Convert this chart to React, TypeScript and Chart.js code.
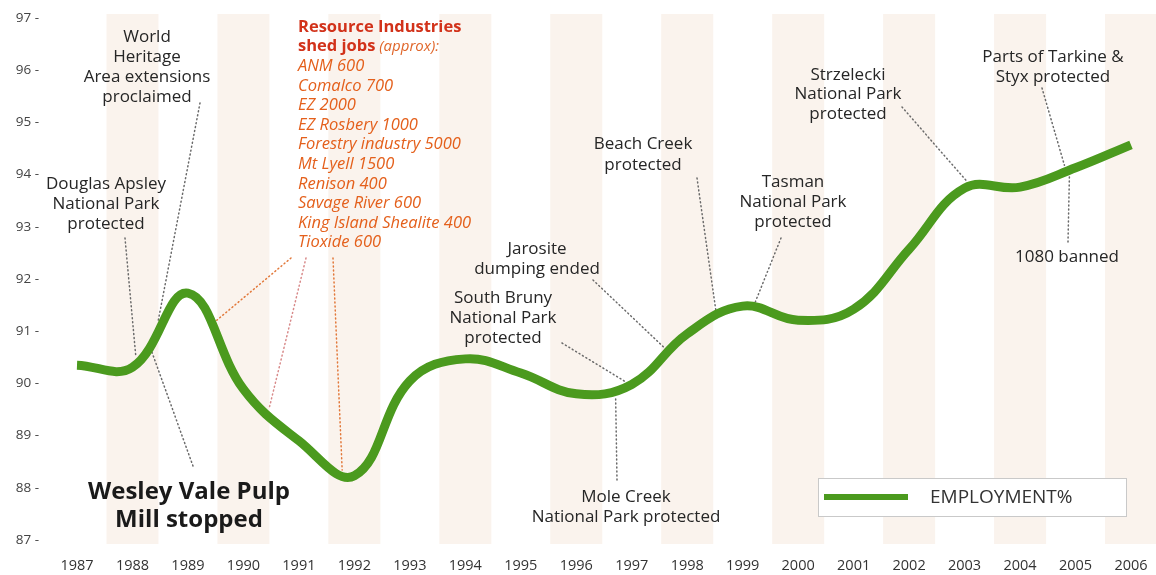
import React, { useEffect, useRef } from 'react';
import { Chart, registerables } from 'chart.js';

Chart.register(...registerables);

// ---------- DATA ----------
const years: string[] = [
  '1987', '1988', '1989', '1990', '1991', '1992', '1993', '1994', '1995', '1996',
  '1997', '1998', '1999', '2000', '2001', '2002', '2003', '2004', '2005', '2006',
];
const employment: number[] = [
  90.35, 90.31, 91.73, 89.89, 88.9, 88.23, 90.05, 90.47, 90.2, 89.8,
  89.98, 90.95, 91.48, 91.21, 91.42, 92.57, 93.74, 93.76, 94.13, 94.57,
];
const yMin = 87;
const yMax = 97;
const seriesLabel = 'EMPLOYMENT%';

// annotation texts
const resourceHeader: string[] = ['Resource Industries', 'shed jobs'];
const resourceApprox = ' (approx):';
const resourceItems: string[] = [
  'ANM 600', 'Comalco 700', 'EZ 2000', 'EZ Rosbery 1000', 'Forestry industry 5000',
  'Mt Lyell 1500', 'Renison 400', 'Savage River 600', 'King Island Shealite 400', 'Tioxide 600',
];

// ---------- STYLE / LAYOUT ----------
const FONT = '"Open Sans", "DejaVu Sans", sans-serif';
const GREEN = '#4b9a1e';
const TEXT = '#262626';

type Note = { lines: string[]; cx: number; cy: number; lh: number; size: number; bold?: boolean };
const notes: Note[] = [
  { lines: ['World', 'Heritage', 'Area extensions', 'proclaimed'], cx: 147, cy: 37, lh: 20, size: 17 },
  { lines: ['Douglas Apsley', 'National Park', 'protected'], cx: 106, cy: 184, lh: 20, size: 17 },
  { lines: ['Wesley Vale Pulp', 'Mill stopped'], cx: 189, cy: 492, lh: 28, size: 24, bold: true },
  { lines: ['Jarosite', 'dumping ended'], cx: 537, cy: 249, lh: 20, size: 17 },
  { lines: ['South Bruny', 'National Park', 'protected'], cx: 503, cy: 298, lh: 20, size: 17 },
  { lines: ['Beach Creek', 'protected'], cx: 643, cy: 144, lh: 21, size: 17 },
  { lines: ['Tasman', 'National Park', 'protected'], cx: 793, cy: 182, lh: 20, size: 17 },
  { lines: ['Strzelecki', 'National Park', 'protected'], cx: 848, cy: 75, lh: 19.5, size: 17 },
  { lines: ['Parts of Tarkine &', 'Styx protected'], cx: 1053, cy: 57, lh: 20, size: 17 },
  { lines: ['1080 banned'], cx: 1067, cy: 257, lh: 20, size: 17 },
  { lines: ['Mole Creek', 'National Park protected'], cx: 626, cy: 497, lh: 20, size: 17 },
];

// leader lines: start in pixels (at the label), end on the curve in data coords [year, value]
type Leader = { from: [number, number]; to: [number, number]; color: string };
const GREY = '#6a6a6a';
const ORANGE = '#e2783a';
const leaders: Leader[] = [
  { from: [200, 103], to: [1988.46, 91.18], color: GREY },
  { from: [125, 238], to: [1988.06, 90.52], color: GREY },
  { from: [193, 466], to: [1988.31, 90.72], color: GREY },
  { from: [291, 258], to: [1989.52, 91.21], color: ORANGE },
  { from: [306, 258], to: [1990.47, 89.55], color: '#d88a8a' },
  { from: [333, 258], to: [1991.78, 88.34], color: ORANGE },
  { from: [593, 280], to: [1997.61, 90.66], color: GREY },
  { from: [562, 343], to: [1996.89, 90.03], color: GREY },
  { from: [697, 178], to: [1998.52, 91.37], color: GREY },
  { from: [781, 238], to: [1999.22, 91.54], color: GREY },
  { from: [902, 107], to: [2003.05, 93.86], color: GREY },
  { from: [1042, 88], to: [2004.8, 94.18], color: GREY },
  { from: [1068, 242], to: [2004.89, 93.99], color: GREY },
  { from: [617, 480], to: [1996.71, 89.72], color: GREY },
];

function yearToPx(chart: any, year: number): number {
  const xs = chart.scales.x;
  const i0 = Math.floor(year - 1987);
  const frac = year - 1987 - i0;
  const a = xs.getPixelForValue(i0);
  const b = xs.getPixelForValue(i0 + 1);
  return a + (b - a) * frac;
}

const decorPlugin = {
  id: 'decor',
  beforeDatasetsDraw(chart: any) {
    const { ctx, chartArea } = chart;
    const xs = chart.scales.x;
    ctx.save();
    // stripes on even years
    years.forEach((y, i) => {
      if (parseInt(y, 10) % 2 !== 0) return;
      const px = xs.getPixelForValue(i);
      ctx.fillStyle = 'rgba(240, 216, 196, 0.3)';
      ctx.fillRect(px - 26, chartArea.top - 4, 52, chartArea.bottom - chartArea.top + 8);
    });
    // leader lines
    ctx.lineWidth = 1.5;
    ctx.lineCap = 'round';
    ctx.setLineDash([1, 3]);
    leaders.forEach((l) => {
      const ex = yearToPx(chart, l.to[0]);
      const ey = chart.scales.y.getPixelForValue(l.to[1]);
      ctx.strokeStyle = l.color;
      ctx.beginPath();
      ctx.moveTo(l.from[0], l.from[1]);
      ctx.lineTo(ex, ey);
      ctx.stroke();
    });
    ctx.restore();
  },
  afterDraw(chart: any) {
    const { ctx } = chart;
    ctx.save();
    ctx.textBaseline = 'middle';
    // notes
    notes.forEach((n) => {
      ctx.font = `${n.bold ? 'bold ' : ''}${n.size}px ${FONT}`;
      ctx.fillStyle = n.bold ? '#1a1a1a' : TEXT;
      ctx.textAlign = 'center';
      n.lines.forEach((t, k) => ctx.fillText(t, n.cx, n.cy + k * n.lh));
    });
    // resource block
    const rx = 298;
    let ry = 27;
    const rlh = 19.6;
    ctx.textAlign = 'left';
    ctx.font = `bold 16.5px ${FONT}`;
    ctx.fillStyle = '#d2321a';
    ctx.fillText(resourceHeader[0], rx, ry);
    ry += rlh;
    ctx.fillText(resourceHeader[1], rx, ry);
    const w = ctx.measureText(resourceHeader[1]).width;
    ctx.font = `italic 15px ${FONT}`;
    ctx.fillStyle = '#e0662a';
    ctx.fillText(resourceApprox, rx + w, ry);
    ry += rlh;
    ctx.font = `italic 16.5px ${FONT}`;
    ctx.fillStyle = '#e4601c';
    resourceItems.forEach((t) => {
      ctx.fillText(t, rx, ry);
      ry += rlh;
    });
    // legend box
    ctx.setLineDash([]);
    ctx.fillStyle = '#ffffff';
    ctx.fillRect(818, 478, 308, 38);
    ctx.strokeStyle = '#c9c9c9';
    ctx.lineWidth = 1;
    ctx.strokeRect(818.5, 478.5, 308, 38);
    ctx.strokeStyle = GREEN;
    ctx.lineWidth = 6;
    ctx.lineCap = 'butt';
    ctx.beginPath();
    ctx.moveTo(824, 497);
    ctx.lineTo(908, 497);
    ctx.stroke();
    ctx.font = `19px ${FONT}`;
    ctx.fillStyle = '#333';
    ctx.textAlign = 'left';
    ctx.fillText(seriesLabel, 930, 498);
    ctx.restore();
  },
};

function zeroPad(s: any) {
  s.paddingLeft = 0;
  s.paddingRight = 0;
  s.paddingTop = 0;
  s.paddingBottom = 0;
}

export default function App() {
  const ref = useRef<HTMLCanvasElement | null>(null);
  useEffect(() => {
    document.body.style.margin = '0';
    const canvas = ref.current;
    if (!canvas) return;
    const chart = new Chart(canvas, {
      type: 'line',
      data: {
        labels: years,
        datasets: [
          {
            label: seriesLabel,
            data: employment,
            borderColor: GREEN,
            borderWidth: 9,
            tension: 0.4,
            pointRadius: 0,
            fill: false,
            borderCapStyle: 'butt',
            borderJoinStyle: 'round',
          },
        ],
      },
      options: {
        responsive: false,
        animation: false,
        layout: { autoPadding: false, padding: { left: 0, top: 18, right: 25, bottom: 0 } },
        plugins: { legend: { display: false }, tooltip: { enabled: false } },
        scales: {
          x: {
            offset: false,
            grid: { display: false, drawTicks: false },
            border: { display: false },
            ticks: {
              autoSkip: false,
              maxRotation: 0,
              padding: 17,
              color: '#333',
              font: { family: FONT, size: 14.5 },
            },
            afterFit: (s: any) => {
              s.height = 35;
              zeroPad(s);
            },
          },
          y: {
            min: yMin,
            max: yMax,
            grid: { display: false, drawTicks: false },
            border: { display: false },
            ticks: {
              stepSize: 1,
              padding: 38,
              color: '#444',
              font: { family: FONT, size: 13.5 },
              callback: (v: any) => `${v} -`,
            },
            afterFit: (s: any) => {
              s.width = 77;
              zeroPad(s);
            },
          },
        },
      },
      plugins: [decorPlugin],
    } as any);
    return () => chart.destroy();
  }, []);
  return (
    <canvas
      ref={ref}
      width={1156}
      height={575}
      style={{ position: 'absolute', left: 0, top: 0, display: 'block', background: '#fff' }}
    />
  );
}
